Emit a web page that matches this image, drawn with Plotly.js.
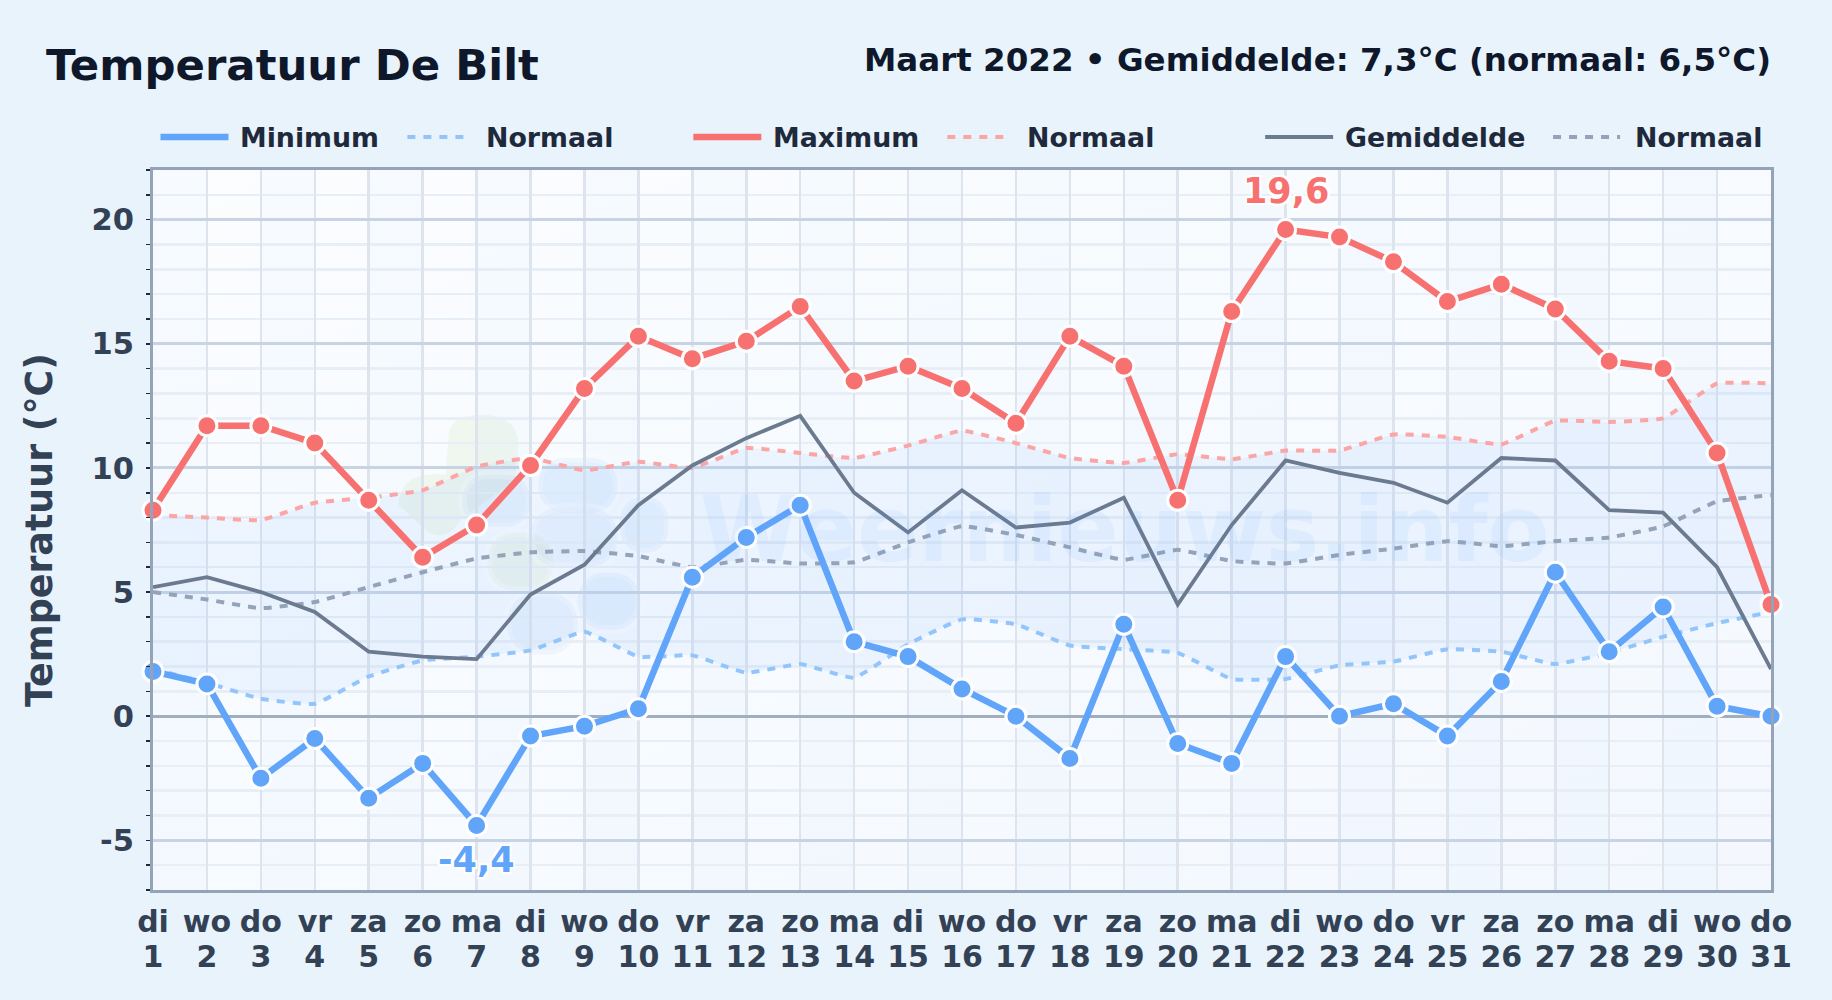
<!DOCTYPE html>
<html><head><meta charset="utf-8">
<script src="https://cdn.plot.ly/plotly-3.0.1.min.js"></script>
<style>html,body{margin:0;padding:0;background:#e8f3fc}#c{width:1832px;height:1000px}</style>
</head><body><div id="c"></div>
<script>
const days=[1,2,3,4,5,6,7,8,9,10,11,12,13,14,15,16,17,18,19,20,21,22,23,24,25,26,27,28,29,30,31];
const weekdays=['di','wo','do','vr','za','zo','ma','di','wo','do','vr','za','zo','ma','di','wo','do','vr','za','zo','ma','di','wo','do','vr','za','zo','ma','di','wo','do'];
const tMax=[8.3,11.7,11.7,11.0,8.7,6.4,7.7,10.1,13.2,15.3,14.4,15.1,16.5,13.5,14.1,13.2,11.8,15.3,14.1,8.7,16.3,19.6,19.3,18.3,16.7,17.4,16.4,14.3,14.0,10.6,4.5];
const tMin=[1.8,1.3,-2.5,-0.9,-3.3,-1.9,-4.4,-0.8,-0.4,0.3,5.6,7.2,8.5,3.0,2.4,1.1,0.0,-1.7,3.7,-1.1,-1.9,2.4,0.0,0.5,-0.8,1.4,5.8,2.6,4.4,0.4,0.0];
const tMean=[5.2,5.6,5.0,4.2,2.6,2.4,2.3,4.9,6.1,8.5,10.1,11.2,12.1,9.0,7.4,9.1,7.6,7.8,8.8,4.5,7.7,10.3,9.8,9.4,8.6,10.4,10.3,8.3,8.2,6.0,1.9];
const normMin=[1.9,1.35,0.7,0.5,1.6,2.25,2.4,2.65,3.4,2.4,2.45,1.75,2.1,1.55,2.9,3.9,3.7,2.85,2.7,2.55,1.5,1.5,2.05,2.2,2.7,2.6,2.1,2.55,3.2,3.75,4.2];
const normMax=[8.1,8.0,7.9,8.6,8.8,9.1,10.05,10.4,9.9,10.25,10.0,10.8,10.6,10.4,10.9,11.5,11.0,10.4,10.2,10.55,10.35,10.7,10.7,11.35,11.25,10.95,11.9,11.85,12.0,13.4,13.4];
const normMean=[5.0,4.7,4.35,4.6,5.2,5.8,6.35,6.6,6.65,6.45,6.0,6.3,6.15,6.2,7.0,7.65,7.3,6.8,6.3,6.7,6.25,6.15,6.5,6.75,7.05,6.85,7.05,7.2,7.65,8.65,8.9];
const yTicks=[-5,0,5,10,15,20];
const legendNames=['Minimum','Normaal','Maximum','Normaal','Gemiddelde','Normaal'];

const L=152.5,T=170,W=1618.5,H=720.5,F='"DejaVu Sans",sans-serif';
const px=x=>(x-L)/W, py=y=>(T+H-y)/H;
const BLUE='#60a5fa',RED='#f87171',GREY='#6b7a8f',LBLUE='#93c5fd',LRED='#fca5a5',LGREY='#94a3b8';

const blob=(x,y,w,h,c)=>`<rect x="${x}" y="${y}" width="${w}" height="${h}" rx="${Math.min(w,h)*0.46}" fill="${c}" stroke="#fff" stroke-opacity=".3" stroke-width="9"/>`;
const G='rgba(175,215,130,.13)',B1='rgba(60,130,220,.07)',B2='rgba(90,170,245,.1)';
const svg=`<svg xmlns="http://www.w3.org/2000/svg" viewBox="${L} ${T} ${W} ${H}" preserveAspectRatio="none">
<defs><linearGradient id="g" x1="0" y1="0" x2="1" y2="1"><stop offset="0" stop-color="#fbfdff"/><stop offset="1" stop-color="#f4f8fe"/></linearGradient></defs>
<rect x="${L}" y="${T}" width="${W}" height="${H}" fill="url(#g)"/>
<path d="M448 440 Q448 415 480 415 Q518 415 518 445 L515 480 L460 520 Q445 545 425 530 L398 505 Q400 470 445 475 Z" fill="${G}"/>
${blob(487,533,66,58,G)}${blob(462,475,68,52,B1)}${blob(538,458,79,55,B2)}${blob(530,508,87,59,B1)}${blob(620,497,48,56,B2)}${blob(577,573,63,57,B2)}${blob(507,593,70,62,B1)}</svg>`;
const bgSrc='data:image/svg+xml;charset=utf-8,'+encodeURIComponent(svg);

const dashStyle=c=>({color:c,width:4,dash:'8px,8px',shape:'spline',smoothing:0.35});
const lineTr=(y,line,extra)=>Object.assign({x:days,y,xaxis:'x',yaxis:'y',mode:'lines',hoverinfo:'skip',cliponaxis:false,line},extra||{});
const markTr=(y,color)=>({x:days,y,mode:'lines+markers',cliponaxis:false,line:{color,width:6.5},marker:{color,size:20,line:{color:'#fff',width:3}}});
const data=[
 lineTr(normMin,dashStyle(LBLUE)),
 lineTr(normMax,dashStyle(LRED),{fill:'tonexty',fillcolor:'rgba(96,165,250,.075)'}),
 lineTr(normMean,dashStyle(LGREY)),
 lineTr(tMean,{color:GREY,width:3.8}),
 markTr(tMin,BLUE),
 markTr(tMax,RED),
 {x:days,y:tMean,xaxis:'x2',yaxis:'y',mode:'lines',line:{width:0,color:'rgba(0,0,0,0)'},hoverinfo:'skip'}
];

const sw=[[160,228,BLUE,6.5,0],[407,465,LBLUE,4,1],[693,761,RED,6.5,0],[947,1006,LRED,4,1],[1265,1333,GREY,3.8,0],[1553,1620,LGREY,4,1]];
const legX=[238,484,771,1025,1343,1633];
const shapes=[];
days.slice(0,-1).forEach((d,i)=>{ if(i%2===0) shapes.push({type:'rect',layer:'below',xref:'x',yref:'paper',x0:d,x1:d+1,y0:0,y1:1,line:{width:0},fillcolor:'rgba(96,165,250,.028)'}); });
sw.forEach(s=>shapes.push({type:'line',xref:'paper',yref:'paper',x0:px(s[0]),x1:px(s[1]),y0:py(137),y1:py(137),line:{color:s[2],width:s[3],dash:s[4]?'8px,8px':'solid'}}));

const ann=(text,x,y,size,color,xanchor,extra)=>Object.assign({text,x:px(x),y:py(y),xref:'paper',yref:'paper',xanchor:xanchor||'left',yanchor:'middle',showarrow:false,font:{family:F,size,color,weight:700}},extra||{});
const annotations=[
 ann('Temperatuur De Bilt',43,65,43.4,'#0f172a'),
 ann('Maart 2022 • Gemiddelde: 7,3°C (normaal: 6,5°C)',1773,60,32.5,'#0f172a','right'),
 {text:'Weernieuws.info',x:px(1124),y:py(530),xref:'paper',yref:'paper',xanchor:'center',yanchor:'middle',showarrow:false,font:{family:F,size:90,color:'rgba(96,165,250,.085)',weight:700}}
];
legendNames.forEach((n,i)=>annotations.push(ann(n,legX[i],137,26.8,'#1e293b')));
const fmt=v=>String(v).replace('.',',');
const iMax=tMax.indexOf(Math.max(...tMax)), iMin=tMin.indexOf(Math.min(...tMin));
const shadow='2px 2px 0 #fff,-2px -2px 0 #fff,2px -2px 0 #fff,-2px 2px 0 #fff';
annotations.push({text:fmt(tMax[iMax]),x:days[iMax],y:tMax[iMax],xref:'x',yref:'y',showarrow:false,yanchor:'bottom',yshift:17,font:{family:F,size:35,color:RED,weight:700,shadow}});
annotations.push({text:fmt(tMin[iMin]),x:days[iMin],y:tMin[iMin],xref:'x',yref:'y',showarrow:false,yanchor:'top',yshift:-13,font:{family:F,size:35,color:BLUE,weight:700,shadow}});

const layout={
 width:1832,height:1000,paper_bgcolor:'#e8f3fc',plot_bgcolor:'#f8fbff',showlegend:false,
 margin:{l:L,r:1832-L-W,t:T,b:1000-T-H,pad:0},
 font:{family:F},
 xaxis:{range:[1,31],tickmode:'array',tickvals:days,ticktext:weekdays,tickangle:0,showline:true,mirror:true,linecolor:LGREY,linewidth:3,
  showgrid:true,gridcolor:'#dde4ee',gridwidth:2.5,zeroline:false,ticks:'',ticklabelstandoff:3,tickfont:{family:F,size:30,color:'#334155',weight:700}},
 xaxis2:{overlaying:'x',anchor:'y',side:'bottom',range:[1,31],tickmode:'array',tickvals:days,ticktext:days.map(String),tickangle:0,showgrid:false,showline:false,zeroline:false,ticks:'',ticklabelstandoff:46,tickfont:{family:F,size:30,color:'#334155',weight:700}},
 yaxis:{range:[-7,22],tickmode:'array',tickvals:yTicks,ticktext:yTicks.map(String),showline:true,mirror:true,linecolor:LGREY,linewidth:3,
  showgrid:true,gridcolor:'#c8d4e4',gridwidth:3,zeroline:true,zerolinecolor:'#a0aec0',zerolinewidth:3,ticks:'',ticklabelstandoff:10,
  tickfont:{family:F,size:30.5,color:'#334155',weight:700},
  minor:{dtick:1,tick0:0,tickmode:'linear',showgrid:true,gridcolor:'#e8eef6',gridwidth:2.5,ticks:'outside',ticklen:4,tickwidth:1.5,tickcolor:'#1e293b'},
  title:{text:'Temperatuur (°C)',standoff:28,font:{family:F,size:36.4,color:'#334155',weight:700}}},
 images:[{source:bgSrc,xref:'paper',yref:'paper',x:0,y:1,sizex:1,sizey:1,xanchor:'left',yanchor:'top',sizing:'stretch',layer:'below'}],
 shapes,annotations
};
Plotly.newPlot('c',data,layout,{displayModeBar:false,responsive:false,staticPlot:true});
</script></body></html>
